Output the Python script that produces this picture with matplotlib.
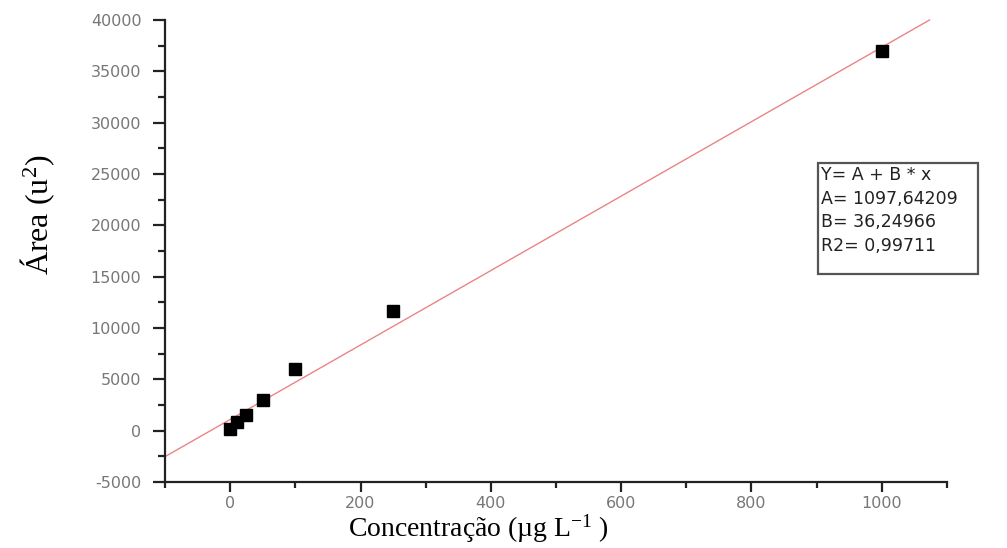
from matplotlib import pyplot as plt
from matplotlib.ticker import MultipleLocator
from matplotlib.patches import Rectangle
import numpy as np

plt.rcParams['mathtext.fontset'] = 'custom'
plt.rcParams['mathtext.rm'] = 'Liberation Serif'
plt.rcParams['mathtext.it'] = 'Liberation Serif:italic'
plt.rcParams['mathtext.default'] = 'rm'
plt.rcParams['axes.unicode_minus'] = False

# calibration data
conc = [0, 10, 25, 50, 100, 250, 1000]
area = [200, 800, 1500, 3000, 6000, 11700, 37000]

# linear fit reported on the chart
A = 1097.64209
B = 36.24966
fit_text = 'Y= A + B * x\nA= 1097,64209\nB= 36,24966\nR2= 0,99711'

fig = plt.figure(figsize=(10.07, 5.48), dpi=100)
ax = fig.add_axes([0.1639, 0.1204, 0.7765, 0.8431])

xfit = np.array([-100, (40000 - A) / B])
ax.plot(xfit, A + B * xfit, color='#e98585', lw=1.0, clip_on=False, zorder=2)
ax.plot(conc, area, 's', color='black', markersize=8.5, zorder=3)

ax.set_xlim(-100, 1100)
ax.set_ylim(-5000, 40000)
ax.xaxis.set_major_locator(MultipleLocator(200))
ax.xaxis.set_minor_locator(MultipleLocator(100))
ax.yaxis.set_major_locator(MultipleLocator(5000))
ax.yaxis.set_minor_locator(MultipleLocator(2500))

for s in ['top', 'right']:
    ax.spines[s].set_visible(False)
for s in ['left', 'bottom']:
    ax.spines[s].set_linewidth(1.6)
    ax.spines[s].set_color('#222222')

ax.tick_params(which='both', direction='out', width=1.6, color='#222222',
               labelsize=11.5, labelcolor='#777777')
ax.tick_params(axis='x', which='major', length=7, pad=3)
ax.tick_params(axis='x', which='minor', length=4)
ax.tick_params(axis='y', which='major', length=9, pad=8)
ax.tick_params(axis='y', which='minor', length=5)

fig.text(478 / 1007, 1 - 537 / 548, 'Concentração (µg L$^{-1}$ )', ha='center', va='baseline',
         family='Liberation Serif', fontsize=20)
fig.text(38 / 1007, 1 - 215 / 548, 'Área (u$^{2}$)', ha='center', va='center',
         rotation=90, family='Liberation Serif', fontsize=23)

fig.patches.append(Rectangle((818 / 1007, 1 - 274 / 548), 160 / 1007, 111 / 548,
                             transform=fig.transFigure, facecolor='white',
                             edgecolor='#555555', lw=1.6, zorder=5))
fig.text(821 / 1007, 1 - 166 / 548, fit_text, ha='left', va='top',
         fontsize=12.5, color='#222222', linespacing=1.4, zorder=6)

fig.savefig('out.png', dpi=100)
